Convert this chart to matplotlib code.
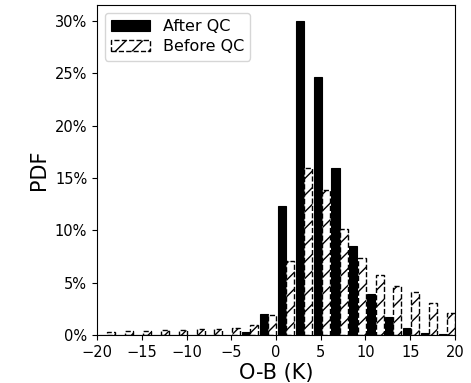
import numpy as np
import matplotlib
matplotlib.use('Agg')
import matplotlib.pyplot as plt
from matplotlib.ticker import PercentFormatter

# left edges of the 2 K bins
bin_left = [-20, -18, -16, -14, -12, -10, -8, -6, -4, -2, 0, 2, 4, 6, 8, 10, 12, 14, 16, 18]
# PDF in percent
after_qc = [0, 0, 0, 0, 0, 0, 0, 0, 0.3, 2.0, 12.3, 30.0, 24.6, 15.9, 8.5, 3.9, 1.7, 0.7, 0.2, 0.1]
before_qc = [0.3, 0.35, 0.35, 0.45, 0.45, 0.55, 0.6, 0.65, 0.95, 1.9,
             7.1, 15.9, 13.8, 10.1, 7.4, 5.75, 4.7, 4.1, 3.1, 2.1]

fig = plt.figure(figsize=(4.71, 3.83), dpi=100)
ax = fig.add_axes([0.206, 0.125, 0.76, 0.862])

x = np.array(bin_left, dtype=float)
ax.bar(x + 0.2, after_qc, width=0.9, align='edge', color='black', edgecolor='black',
       linewidth=0.8, label='After QC')
ax.bar(x + 1.12, before_qc, width=0.9, align='edge', facecolor='white', edgecolor='black',
       linestyle='--', linewidth=1.0, hatch='//', label='Before QC')

ax.set_xlim(-20, 20)
ax.set_ylim(0, 31.5)
ax.set_xticks([-20, -15, -10, -5, 0, 5, 10, 15, 20])
ax.set_yticks([0, 5, 10, 15, 20, 25, 30])
ax.yaxis.set_major_formatter(PercentFormatter(decimals=0))
ax.tick_params(labelsize=10.5)

ax.set_xlabel('O-B (K)', fontsize=15, labelpad=2)
ax.set_ylabel('PDF', fontsize=15, labelpad=4)
ax.legend(loc='upper left', fontsize=11.5, handlelength=2.4, labelspacing=0.3)

fig.savefig('out.png', dpi=100)
